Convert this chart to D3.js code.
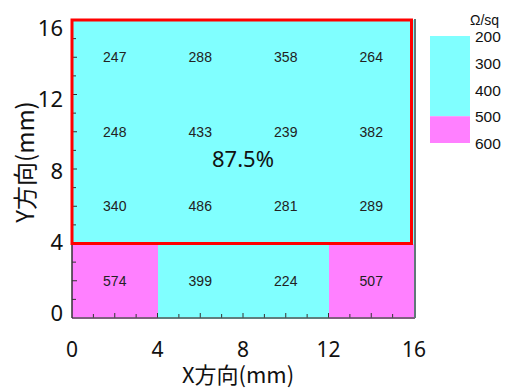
<!DOCTYPE html>
<html><head><meta charset="utf-8">
<script src="https://cdn.jsdelivr.net/npm/d3@7"></script>
<style>body{margin:0;background:#fff}svg{display:block}</style>
</head><body>
<script>
const xEdges = [0, 4, 8, 12, 16];
const yEdges = [0, 4, 8, 12, 16];
// rows from top (y 12-16) to bottom (y 0-4)
const row12_16 = [247, 288, 358, 264];
const row8_12  = [248, 433, 239, 382];
const row4_8   = [340, 486, 281, 289];
const row0_4   = [574, 399, 224, 507];
const rows = [row0_4, row4_8, row8_12, row12_16];
const axisTicks = [0, 4, 8, 12, 16];
const legendTicks = [200, 300, 400, 500, 600];
const legendBands = [[200, 500], [500, 600]];
const yieldLabel = "87.5%";
const regionX = [0, 16], regionY = [4, 16];

const W = 505, H = 389;
const svg = d3.select("body").append("svg").attr("width", W).attr("height", H);
const x = d3.scaleLinear().domain([0, 16]).range([72, 414]);
const y = d3.scaleLinear().domain([0, 16]).range([318, 20]);
const yLab = d3.scaleLinear().domain([0, 16]).range([321, 36]);
const color = v => v >= 500 ? "#ff80ff" : "#80ffff";

const cells = [];
rows.forEach((r, j) => r.forEach((v, i) => cells.push({i, j, v})));

svg.selectAll("rect.cell").data(cells).enter().append("rect")
  .attr("shape-rendering", "crispEdges")
  .attr("x", d => x(xEdges[d.i])).attr("width", d => x(xEdges[d.i+1]) - x(xEdges[d.i]) + 0.5)
  .attr("y", d => y(yEdges[d.j+1])).attr("height", d => y(yEdges[d.j]) - y(yEdges[d.j+1]) + 0.5)
  .attr("fill", d => color(d.v));

// ticks (minor every 1 unit, inside)
const minor = d3.range(0, 17);
const g = svg.append("g").attr("stroke", "#333").attr("stroke-width", 1);
minor.forEach(t => {
  const len = t % 2 === 0 ? 5 : 4;
  if (t > 0 && t < 16) {
    g.append("line").attr("x1", x(t)).attr("x2", x(t)).attr("y1", y(0)).attr("y2", y(0) - len);
    g.append("line").attr("x1", x(0)).attr("x2", x(0) + len).attr("y1", y(t)).attr("y2", y(t));
  }
});
// frame
svg.append("line").attr("x1", x(0)).attr("x2", x(16) + 1).attr("y1", y(0)).attr("y2", y(0)).attr("stroke", "#555").attr("stroke-width", 1.5);
svg.append("line").attr("x1", x(0)).attr("x2", x(0)).attr("y1", y(0)).attr("y2", y(16)).attr("stroke", "#333").attr("stroke-width", 1.5);
svg.append("line").attr("x1", x(16) + 1).attr("x2", x(16) + 1).attr("y1", y(0)).attr("y2", y(16) - 1).attr("stroke", "#607878").attr("stroke-width", 2);

// cell values
svg.selectAll("text.val").data(cells).enter().append("text")
  .attr("x", d => (x(xEdges[d.i]) + x(xEdges[d.i+1])) / 2)
  .attr("y", d => (y(yEdges[d.j]) + y(yEdges[d.j+1])) / 2 + 5)
  .attr("text-anchor", "middle")
  .attr("font-family", "Liberation Sans, Arial, sans-serif")
  .attr("font-size", 14).attr("fill", "#222")
  .text(d => d.v);

// red region
svg.append("rect")
  .attr("x", x(regionX[0])).attr("y", y(regionY[1]))
  .attr("width", x(regionX[1]) - x(regionX[0]) - 2.5)
  .attr("height", y(regionY[0]) - y(regionY[1]))
  .attr("fill", "none").attr("stroke", "#ff0000").attr("stroke-width", 3);

svg.append("text").attr("x", x(8)).attr("y", y(8) - 2)
  .attr("text-anchor", "middle").attr("font-family", "Noto Sans, sans-serif")
  .attr("font-size", 22).attr("fill", "#111").text(yieldLabel);

// axis labels
const fontAx = "Noto Sans, Noto Sans CJK JP, sans-serif";
svg.selectAll("text.xt").data(axisTicks).enter().append("text")
  .attr("x", d => x(d)).attr("y", 357).attr("text-anchor", "middle")
  .attr("font-family", fontAx).attr("font-size", 21).attr("fill", "#111").text(d => d);
svg.selectAll("text.yt").data(axisTicks).enter().append("text")
  .attr("x", 63).attr("y", d => yLab(d)).attr("text-anchor", "end")
  .attr("font-family", fontAx).attr("font-size", 22).attr("fill", "#111").text(d => d);
svg.append("text").attr("x", 238).attr("y", 383).attr("text-anchor", "middle")
  .attr("font-family", "Noto Sans CJK JP, sans-serif").attr("font-size", 22).attr("fill", "#111")
  .text("X方向(mm)");
svg.append("text").attr("transform", "translate(34,162) rotate(-90)").attr("text-anchor", "middle")
  .attr("font-family", "Noto Sans CJK JP, sans-serif").attr("font-size", 24).attr("fill", "#111")
  .text("Y方向(mm)");

// legend
const ly = d3.scaleLinear().domain([200, 600]).range([36, 143]);
svg.selectAll("rect.leg").data(legendBands).enter().append("rect")
  .attr("x", 430).attr("width", 40)
  .attr("y", d => ly(d[0])).attr("height", d => ly(d[1]) - ly(d[0]))
  .attr("fill", d => color(d[0]));
svg.selectAll("text.lt").data(legendTicks).enter().append("text")
  .attr("x", 475).attr("y", d => ly(d) + 6)
  .attr("font-family", "Liberation Sans, Arial, sans-serif").attr("font-size", 15.5).attr("fill", "#111").text(d => d);
svg.append("text").attr("x", 470).attr("y", 25)
  .attr("font-family", "Liberation Sans, Arial, sans-serif").attr("font-size", 14).attr("fill", "#111").text("Ω/sq");
</script>
</body></html>
